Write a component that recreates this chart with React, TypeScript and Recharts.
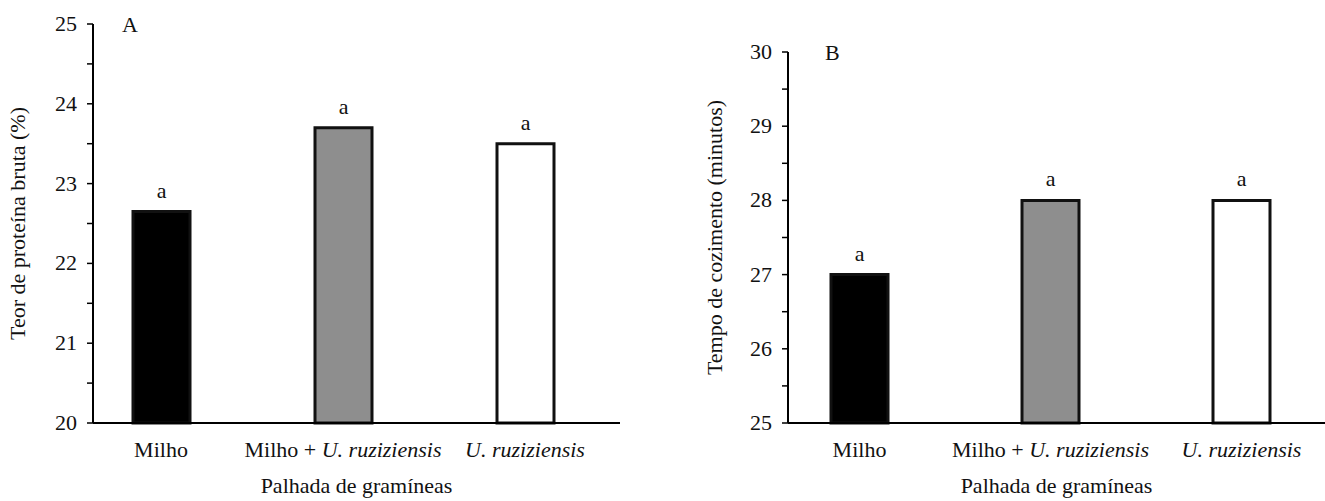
import { BarChart, Bar, XAxis, YAxis, Cell, LabelList, Label } from 'recharts';

const categorias = ['Milho', 'Milho + U. ruziziensis', 'U. ruziziensis'];
const proteina = [22.65, 23.7, 23.5];
const cozimento = [27.0, 28.0, 28.0];
const letras = ['a', 'a', 'a'];
const proteinaTicks = [20, 20.5, 21, 21.5, 22, 22.5, 23, 23.5, 24, 24.5, 25];
const cozimentoTicks = [25, 25.5, 26, 26.5, 27, 27.5, 28, 28.5, 29, 29.5, 30];
const cores = ['#000000', '#8e8e8e', '#ffffff'];

const FONT = '"Liberation Serif", "Times New Roman", serif';
const SX = 1.1; // o original parece esticado na horizontal

function CatTick({ x, y, payload }: any) {
  const v: string = payload.value;
  const idx = v.indexOf('U. ');
  const normal = idx >= 0 ? v.slice(0, idx) : v;
  const italico = idx >= 0 ? v.slice(idx) : '';
  return (
    <text
      transform={`translate(${x},${y}) scale(${SX},1)`}
      textAnchor="middle"
      dy="0.71em"
      fontFamily={FONT}
      fontSize={20}
      fill="#111"
      xmlSpace="preserve"
    >
      {normal && <tspan>{normal}</tspan>}
      {italico && <tspan fontStyle="italic">{italico}</tspan>}
    </text>
  );
}

function NumTick({ x, y, payload }: any) {
  if (!Number.isInteger(payload.value)) return <g />;
  return (
    <text
      transform={`translate(${x},${y}) scale(${SX},1)`}
      textAnchor="end"
      dy="0.35em"
      fontFamily={FONT}
      fontSize={20}
      fill="#111"
    >
      {payload.value}
    </text>
  );
}

function LetraBarra({ x, y, width, value }: any) {
  return (
    <text
      transform={`translate(${x + width / 2},${y - 14}) scale(${SX},1)`}
      textAnchor="middle"
      fontFamily={FONT}
      fontSize={20}
      fill="#111"
    >
      {value}
    </text>
  );
}

interface PainelProps {
  valores: number[];
  domain: [number, number];
  ticks: number[];
  yTitulo: string;
  letra: string;
  width: number;
  yWidth: number;
  top: number;
  right: number;
  padding: { left: number; right: number };
  tituloX: number;
  letraX: number;
}

function Painel({ valores, domain, ticks, yTitulo, letra, width, yWidth, top, right, padding, tituloX, letraX }: PainelProps) {
  const data = categorias.map((c, i) => ({ categoria: c, valor: valores[i], letra: letras[i] }));
  return (
    <BarChart width={width} height={501} data={data} margin={{ top, right, bottom: 38, left: 0 }}>
      <XAxis
        dataKey="categoria"
        interval={0}
        tickLine={false}
        tickSize={0}
        tickMargin={20}
        height={40}
        padding={padding}
        axisLine={{ stroke: '#000', strokeWidth: 2 }}
        tick={<CatTick />}
      >
        <Label
          content={(p: any) => {
            const vb = p.viewBox;
            const cx = vb.x + vb.width / 2;
            return (
              <text transform={`translate(${cx},${vb.y + 70}) scale(${SX},1)`} textAnchor="middle" fontFamily={FONT} fontSize={20} fill="#111">
                Palhada de gramíneas
              </text>
            );
          }}
        />
      </XAxis>
      <YAxis
        type="number"
        domain={domain}
        ticks={ticks}
        interval={0}
        width={yWidth}
        tickSize={6}
        tickMargin={10}
        axisLine={{ stroke: '#000', strokeWidth: 2 }}
        tickLine={{ stroke: '#000', strokeWidth: 1.5 }}
        tick={<NumTick />}
      >
        <Label
          content={(p: any) => {
            const vb = p.viewBox;
            const cy = vb.y + vb.height / 2;
            return (
              <text
                transform={`translate(${tituloX},${cy}) rotate(-90) scale(${SX},1)`}
                textAnchor="middle"
                dy="0.35em"
                fontFamily={FONT}
                fontSize={20}
                fill="#111"
              >
                {yTitulo}
              </text>
            );
          }}
        />
        <Label
          content={(p: any) => {
            const vb = p.viewBox;
            return (
              <text transform={`translate(${letraX},${vb.y + 8}) scale(${SX},1)`} fontFamily={FONT} fontSize={20} fill="#111">
                {letra}
              </text>
            );
          }}
        />
      </YAxis>
      <Bar dataKey="valor" barSize={57} stroke="#111" strokeWidth={3} isAnimationActive={false}>
        {data.map((d, i) => (
          <Cell key={d.categoria} fill={cores[i]} />
        ))}
        <LabelList dataKey="letra" content={<LetraBarra />} />
      </Bar>
    </BarChart>
  );
}

export default function App() {
  return (
    <div style={{ position: 'absolute', left: 0, top: 0, width: 1325, height: 501, background: '#fff' }}>
      <div style={{ position: 'absolute', left: 0, top: 0 }}>
        <Painel
          valores={proteina}
          domain={[20, 25]}
          ticks={proteinaTicks}
          yTitulo="Teor de proteína bruta (%)"
          letra="A"
          width={640}
          yWidth={93}
          top={24}
          right={20}
          padding={{ left: -23, right: 4 }}
          tituloX={18}
          letraX={122}
        />
      </div>
      <div style={{ position: 'absolute', left: 660, top: 0 }}>
        <Painel
          valores={cozimento}
          domain={[25, 30]}
          ticks={cozimentoTicks}
          yTitulo="Tempo de cozimento (minutos)"
          letra="B"
          width={665}
          yWidth={128}
          top={52}
          right={0}
          padding={{ left: -24, right: -12 }}
          tituloX={55}
          letraX={165}
        />
      </div>
    </div>
  );
}
